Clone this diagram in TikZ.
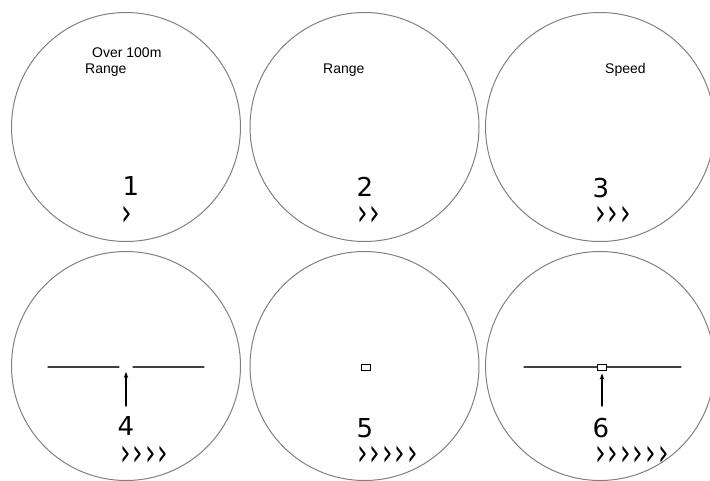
\documentclass[tikz,border=0pt]{standalone}
\usepackage{fontspec}
\setmainfont{Liberation Sans}
\newfontfamily\lcdfont{DejaVu Sans}
\usetikzlibrary{arrows.meta}

\newcommand\chevrow[1]{\scalebox{1.2}[1.7]{#1}}

\tikzset{
  lens/.style={draw=black!50, line width=1pt},
  modetext/.style={anchor=base west, inner sep=0pt, font=\fontsize{14}{14}\selectfont},
  digit/.style={anchor=base, inner sep=0pt, text height=19pt, text depth=0pt, font=\lcdfont\fontsize{26}{26}\selectfont},
  chevrons/.style={anchor=base west, inner sep=0pt, text height=10pt, text depth=0pt,
    font=\lcdfont\fontsize{22}{22}\selectfont,
    execute at begin node={\spaceskip=1.7pt plus 0pt\relax}},
  hair/.style={draw=black!75, line width=1.2pt},
  pointer/.style={-{Stealth[length=6pt,width=4.5pt]}, line width=1.3pt},
  target/.style={draw, line width=1pt, minimum width=9pt, minimum height=6pt, inner sep=0pt}
}

\begin{document}
\begin{tikzpicture}[x=1pt, y=-1pt, line cap=round]
  \useasboundingbox (0,0) rectangle (710,480);
  \clip (0,0) rectangle (710,480);
  \def\r{114.5}
  % Centres of the six lenses.
  \coordinate (L1) at (126,127);
  \coordinate (L2) at (364.5,127);
  \coordinate (L3) at (600,127);
  \coordinate (L4) at (126,366);
  \coordinate (L5) at (364.5,366);
  \coordinate (L6) at (600,366);
  \draw[lens] (L1) circle[radius=\r pt];
  \draw[lens] (L2) circle[radius=\r pt];
  \draw[lens] (L3) circle[radius=\r pt];
  \draw[lens] (L4) circle[radius=\r pt];
  \draw[lens] (L5) circle[radius=\r pt];
  \draw[lens] (L6) circle[radius=\r pt];
  % Mode texts.
  \node[modetext] (over1)  at (92,57)  {Over 100m};
  \node[modetext] (range1) at (85,73)  {Range};
  \node[modetext] (range2) at (323,73) {Range};
  \node[modetext] (speed3) at (605,73) {Speed};
  % Step numbers.
  \node[digit] (n1) at (131,195) {1};
  \node[digit] (n2) at (365,196) {2};
  \node[digit] (n3) at (601,197) {3};
  \node[digit] (n4) at (126,435) {4};
  \node[digit] (n5) at (365,437) {5};
  \node[digit] (n6) at (601,437) {6};
  % Chevron rows.
  \node[chevrons] (c1) at (121,225) {\chevrow{›}};
  \node[chevrons] (c2) at (357,225) {\chevrow{› ›}};
  \node[chevrons] (c3) at (595,225) {\chevrow{› › ›}};
  \node[chevrons] (c4) at (120,465) {\chevrow{› › › ›}};
  \node[chevrons] (c5) at (357,465) {\chevrow{› › › › ›}};
  \node[chevrons] (c6) at (595,465) {\chevrow{› › › › › ›}};
  % Lens 4: split line with pointer.
  \coordinate (h4a) at (48,367);
  \coordinate (h4b) at (119,367);
  \coordinate (h4c) at (133,367);
  \coordinate (h4d) at (204,367);
  \coordinate (p4a) at (126,406);
  \coordinate (p4b) at (126,372);
  \draw[hair] (h4a) -- (h4b);
  \draw[hair] (h4c) -- (h4d);
  \draw[pointer] (p4a) -- (p4b);
  % Lens 5: target box.
  \node[target] (box5) at (365.5,367) {};
  % Lens 6: line through box with pointer.
  \node[target] (box6) at (602,367) {};
  \coordinate (h6a) at (524,367);
  \coordinate (h6d) at (681,367);
  \coordinate (p6a) at (602,406);
  \draw[hair] (h6a) -- (box6.west);
  \draw[hair] (box6.east) -- (h6d);
  \draw[pointer, shorten >=3pt] (p6a) -- (box6.south);
\end{tikzpicture}
\end{document}
